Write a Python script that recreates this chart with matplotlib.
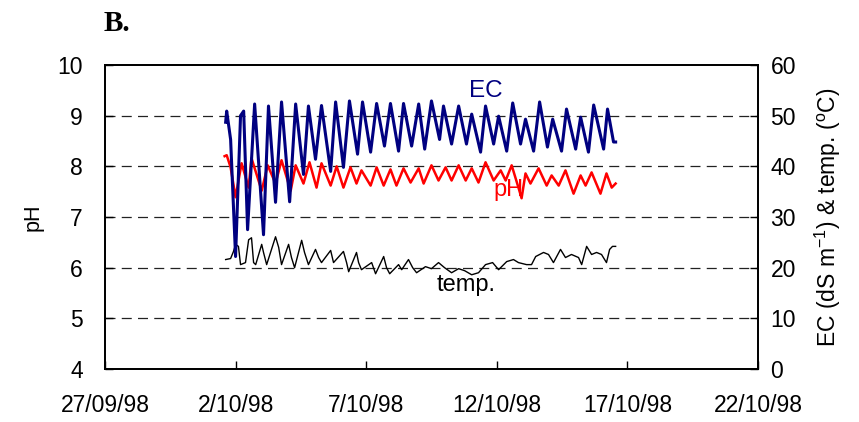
import matplotlib
matplotlib.use("Agg")
import matplotlib.pyplot as plt
import pandas as pd

plt.rcParams['font.family'] = ['Liberation Sans', 'DejaVu Sans']

# Sample times are fractional days of October 1998
ec_day = [1.62, 1.66, 1.81, 2.00, 2.19, 2.31, 2.46, 2.73, 3.07, 3.26,
          3.53, 3.76, 4.07, 4.30, 4.60, 4.79, 5.06, 5.29, 5.64, 5.83,
          6.13, 6.36, 6.67, 6.86, 7.17, 7.40, 7.70, 7.93, 8.24, 8.43,
          8.74, 9.01, 9.24, 9.50, 9.81, 9.96, 10.27, 10.54, 10.84, 11.04,
          11.38, 11.57, 11.88, 12.07, 12.38, 12.61, 12.91, 13.10, 13.41, 13.64,
          13.94, 14.14, 14.48, 14.67, 15.02, 15.21, 15.51, 15.71, 16.09, 16.24,
          16.47, 16.55]
ec_val = [48.7, 50.9, 45.3, 22.2, 50.0, 50.9, 27.5, 52.3, 26.5, 51.9,
          32.9, 52.7, 33.0, 52.3, 38.4, 51.9, 41.4, 52.0, 39.0, 52.7,
          39.8, 52.9, 42.4, 52.7, 42.8, 52.4, 44.0, 52.4, 43.0, 52.4,
          44.0, 52.3, 43.4, 52.9, 45.3, 51.9, 44.4, 51.9, 44.4, 50.3,
          42.8, 51.9, 44.4, 49.9, 43.0, 52.5, 44.4, 49.3, 43.0, 52.7,
          43.8, 49.3, 43.0, 51.3, 43.4, 49.7, 42.8, 52.1, 43.4, 51.3,
          44.8, 44.8]

ph_day = [1.58, 1.66, 1.81, 2.00, 2.23, 2.50, 2.61, 3.00, 3.23, 3.53,
          3.76, 4.11, 4.30, 4.60, 4.83, 5.10, 5.29, 5.64, 5.87, 6.13,
          6.40, 6.63, 6.82, 7.17, 7.40, 7.67, 7.93, 8.16, 8.43, 8.70,
          9.01, 9.20, 9.50, 9.77, 10.04, 10.27, 10.54, 10.81, 11.04, 11.30,
          11.57, 11.88, 12.15, 12.34, 12.57, 12.83, 12.95, 13.10, 13.29, 13.60,
          13.91, 14.10, 14.37, 14.63, 14.94, 15.21, 15.40, 15.63, 15.97, 16.20,
          16.40, 16.55]
ph_val = [8.20, 8.22, 7.98, 7.39, 8.06, 7.58, 8.16, 7.52, 8.02, 7.66,
          8.12, 7.52, 8.02, 7.66, 8.08, 7.58, 8.06, 7.62, 8.00, 7.58,
          7.98, 7.66, 7.92, 7.62, 7.98, 7.62, 7.94, 7.62, 7.96, 7.68,
          7.96, 7.66, 8.02, 7.72, 7.98, 7.72, 8.02, 7.72, 7.96, 7.68,
          8.08, 7.72, 7.92, 7.72, 8.02, 7.58, 7.37, 7.86, 7.66, 7.96,
          7.62, 7.82, 7.62, 7.92, 7.46, 7.82, 7.62, 7.88, 7.46, 7.86,
          7.58, 7.66]

t_day = [1.62, 1.81, 1.92, 2.00, 2.11, 2.19, 2.38, 2.50, 2.61, 2.69,
         2.77, 3.00, 3.07, 3.19, 3.53, 3.65, 3.76, 4.03, 4.14, 4.26,
         4.53, 4.64, 4.79, 5.06, 5.18, 5.29, 5.64, 5.75, 6.13, 6.25,
         6.33, 6.63, 6.71, 6.82, 7.21, 7.36, 7.67, 7.78, 7.90, 8.24,
         8.36, 8.62, 8.78, 8.93, 9.27, 9.50, 9.77, 10.00, 10.27, 10.54,
         10.77, 11.04, 11.30, 11.57, 11.84, 12.07, 12.38, 12.64, 12.83, 13.14,
         13.33, 13.49, 13.79, 13.98, 14.17, 14.44, 14.63, 14.86, 15.13, 15.25,
         15.44, 15.63, 15.82, 16.01, 16.20, 16.32, 16.43, 16.55]
t_val = [21.6, 21.8, 23.2, 24.6, 24.2, 20.6, 21.0, 25.5, 25.9, 21.0,
         20.6, 24.6, 23.0, 20.6, 26.1, 24.0, 20.6, 24.6, 22.0, 20.0,
         25.4, 23.0, 20.6, 23.6, 22.0, 21.0, 23.4, 21.0, 23.2, 21.0,
         19.2, 23.0, 21.0, 19.6, 21.0, 18.8, 22.2, 20.0, 18.8, 20.6,
         19.6, 21.6, 20.0, 19.0, 20.2, 19.8, 21.0, 20.0, 19.0, 19.8,
         19.4, 18.6, 19.0, 20.6, 21.0, 19.6, 21.2, 21.6, 21.0, 20.6,
         20.6, 22.2, 23.0, 22.6, 21.0, 23.6, 22.0, 22.6, 22.0, 20.6,
         24.2, 22.6, 23.0, 22.6, 21.0, 23.6, 24.2, 24.2]

tick_dates = ["1998-09-27", "1998-10-02", "1998-10-07", "1998-10-12", "1998-10-17", "1998-10-22"]
tick_labels = ["27/09/98", "2/10/98", "7/10/98", "12/10/98", "17/10/98", "22/10/98"]
ph_ticks = [4, 5, 6, 7, 8, 9, 10]
right_ticks = [0, 10, 20, 30, 40, 50, 60]


def to_time(days):
    base = pd.Timestamp("1998-10-01")
    return [base + pd.Timedelta(days=d - 1) for d in days]


fig = plt.figure(figsize=(8.59, 4.22), dpi=100)
ax = fig.add_axes([0.1222, 0.1256, 0.7602, 0.7204])
ax2 = ax.twinx()

ax.plot(to_time(ph_day), ph_val, color="#ff0000", lw=1.8, solid_joinstyle="round")
ax2.plot(to_time(t_day), t_val, color="black", lw=1.0)
ax2.plot(to_time(ec_day), ec_val, color="#000080", lw=2.2, solid_joinstyle="round")

xt = [pd.Timestamp(d) for d in tick_dates]
ax.set_xlim(xt[0], xt[-1])
ax.set_xticks(xt)
ax.set_xticklabels(tick_labels)
ax.set_ylim(4, 10)
ax.set_yticks(ph_ticks)
ax2.set_ylim(0, 60)
ax2.set_yticks(right_ticks)

for y in ph_ticks[1:-1]:
    ax.axhline(y, color="#222222", lw=0.9, dashes=(8, 5), zorder=0)

for a in (ax, ax2):
    for s in a.spines.values():
        s.set_linewidth(1.3)
ax.tick_params(axis="x", direction="in", length=6, width=1, labelsize=16.5, pad=18)
ax.tick_params(axis="y", direction="in", length=6, width=1, labelsize=16.5, pad=16)
ax2.tick_params(axis="y", direction="in", length=6, width=1, labelsize=16.5, pad=9)

ax.set_ylabel("pH", fontsize=15.5, labelpad=10)
ax2.set_ylabel("EC (dS m$^{\\mathregular{-1}}$) & temp. ($^{\\mathregular{o}}$C)",
               fontsize=16.5, labelpad=12)

ax2.text(pd.Timestamp("1998-10-11 14:00"), 54.8, "EC", color="#000080", fontsize=17.5,
         ha="center", va="center")
ax2.text(pd.Timestamp("1998-10-12 11:00"), 35.3, "pH", color="#ff0000", fontsize=17,
         ha="center", va="center")
ax2.text(pd.Timestamp("1998-10-10 20:00"), 16.6, "temp.", color="black", fontsize=17,
         ha="center", va="center")

fig.text(0.121, 0.944, "B.", fontsize=21, fontweight="bold", family="Liberation Serif",
         ha="left", va="center")

fig.savefig("out.png", dpi=100)
